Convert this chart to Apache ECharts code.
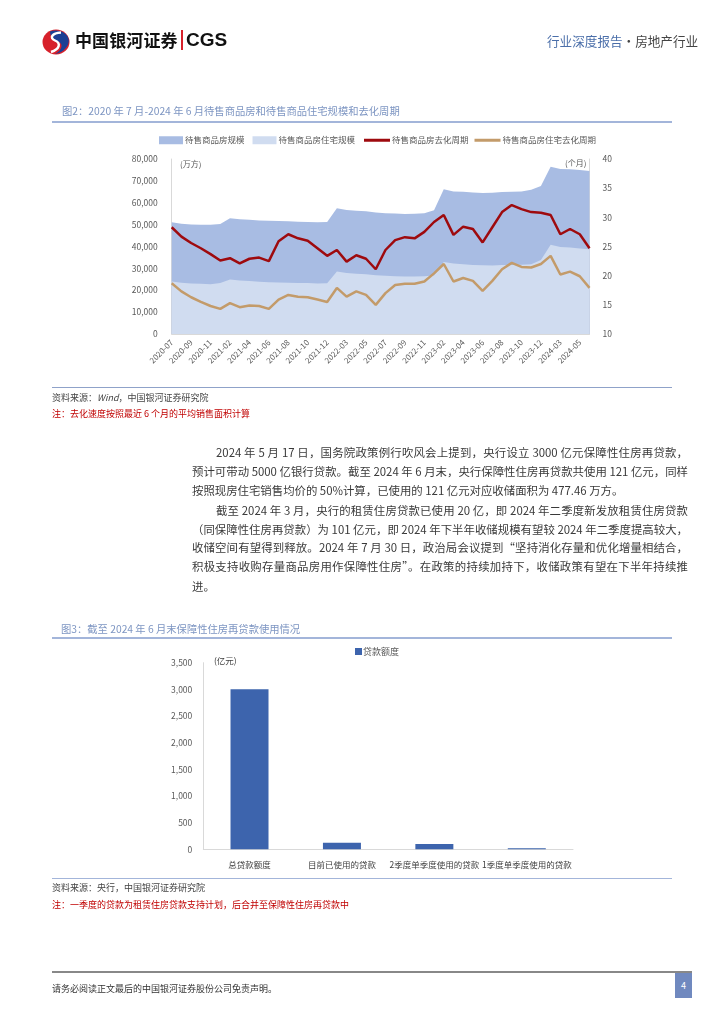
<!DOCTYPE html>
<html><head><meta charset="utf-8">
<script src="https://cdn.jsdelivr.net/npm/echarts@6/dist/echarts.min.js"></script>
<style>
body{margin:0;background:#fff;}
#page{position:relative;width:724px;height:1024px;overflow:hidden;font-family:"Noto Sans CJK SC","Noto Sans",sans-serif;background:#fff;}
#chart{position:absolute;left:0;top:0;width:724px;height:1024px;}
.t{position:absolute;white-space:nowrap;}
.hl{position:absolute;}
.p{position:absolute;font-size:11.4px;color:#3a3a3a;height:19px;line-height:19px;white-space:nowrap;}
.j{text-align:justify;text-align-last:justify;}
</style></head>
<body>
<div id="page">
<div id="chart"></div>

<!-- header -->
<svg class="hl" style="left:42px;top:29px" width="28" height="26" viewBox="0 0 28 26">
  <ellipse cx="14" cy="13" rx="13.5" ry="12.5" fill="#D7212B"/>
  <path d="M8 2.5 C 16 -1, 29 4, 26.5 14 C 25 20, 19 24, 13 25 C 20 21, 22 15, 16 12.5 C 10 10, 8 6, 8 2.5Z" fill="#1C3F94"/>
  <path d="M19 3.5 C 10 4, 7 9, 13 11.5 C 19 14, 18 20, 9 23" fill="none" stroke="#fff" stroke-width="2.4"/>
</svg>
<div class="t" style="left:75px;top:29px;font-size:17px;line-height:22px;font-weight:bold;color:#111;letter-spacing:0.1px">中国银河证券</div>
<div class="hl" style="left:181px;top:30px;width:1.5px;height:20px;background:#D7212B"></div>
<div class="t" style="left:186px;top:28px;font-size:19px;line-height:24px;font-weight:bold;color:#111;font-family:'Liberation Sans',Arial,sans-serif">CGS</div>
<div class="t" style="left:547px;top:32px;font-size:12.6px;line-height:17px;color:#4a6ea9">行业深度报告<span style="color:#444">·房地产行业</span></div>

<!-- figure 2 -->
<div class="t" style="left:62px;top:103px;font-size:10.3px;line-height:15px;color:#7d95c2">图2：2020 年 7 月-2024 年 6 月待售商品房和待售商品住宅规模和去化周期</div>
<div class="hl" style="left:52px;top:121px;width:620px;height:2px;background:#a3b5da"></div>
<div class="t" style="left:180px;top:158px;font-size:8px;line-height:12px;color:#595959">(万方)</div>
<div class="t" style="left:565px;top:157px;font-size:8px;line-height:12px;color:#595959">(个月)</div>
<div class="hl" style="left:52px;top:386.5px;width:620px;height:1.5px;background:#8fa2c9"></div>
<div class="t" style="left:52px;top:391px;font-size:9px;line-height:13px;color:#444">资料来源：<i>Wind</i>，中国银河证券研究院</div>
<div class="t" style="left:52px;top:406.5px;font-size:9px;line-height:13px;color:#c00000">注：去化速度按照最近 6 个月的平均销售面积计算</div>

<!-- body text -->
<div class="p j" style="left:216px;top:443px;width:472px">2024 年 5 月 17 日，国务院政策例行吹风会上提到，央行设立 3000 亿元保障性住房再贷款，</div>
<div class="p j" style="left:192px;top:462px;width:496px">预计可带动 5000 亿银行贷款。截至 2024 年 6 月末，央行保障性住房再贷款共使用 121 亿元，同样</div>
<div class="p" style="left:192px;top:480.5px;">按照现房住宅销售均价的 50%计算，已使用的 121 亿元对应收储面积为 477.46 万方。</div>
<div class="p j" style="left:216px;top:500.5px;width:472px">截至 2024 年 3 月，央行的租赁住房贷款已使用 20 亿，即 2024 年二季度新发放租赁住房贷款</div>
<div class="p j" style="left:192px;top:519.5px;width:496px">（同保障性住房再贷款）为 101 亿元，即 2024 年下半年收储规模有望较 2024 年二季度提高较大，</div>
<div class="p j" style="left:192px;top:538px;width:496px">收储空间有望得到释放。2024 年 7 月 30 日，政治局会议提到“坚持消化存量和优化增量相结合，</div>
<div class="p j" style="left:192px;top:557px;width:496px">积极支持收购存量商品房用作保障性住房”。在政策的持续加持下，收储政策有望在下半年持续推</div>
<div class="p" style="left:192px;top:576.5px;">进。</div>

<!-- figure 3 -->
<div class="t" style="left:61px;top:620.5px;font-size:10.3px;line-height:15px;color:#7d95c2">图3：截至 2024 年 6 月末保障性住房再贷款使用情况</div>
<div class="hl" style="left:52px;top:637px;width:620px;height:2px;background:#a3b5da"></div>
<div class="t" style="left:214px;top:654px;font-size:8.5px;line-height:12px;color:#404040">(亿元)</div>
<div class="hl" style="left:52px;top:877.5px;width:620px;height:1.5px;background:#a3b5da"></div>
<div class="t" style="left:52px;top:880.5px;font-size:9px;line-height:13px;color:#444">资料来源：央行，中国银河证券研究院</div>
<div class="t" style="left:52px;top:897.5px;font-size:9px;line-height:13px;color:#c00000">注：一季度的贷款为租赁住房贷款支持计划，后合并至保障性住房再贷款中</div>

<!-- footer -->
<div class="hl" style="left:52px;top:971px;width:640px;height:1.5px;background:#888"></div>
<div class="t" style="left:52px;top:981.5px;font-size:9px;line-height:13px;color:#333">请务必阅读正文最后的中国银河证券股份公司免责声明。</div>
<div class="hl" style="left:675px;top:972.5px;width:17px;height:25px;background:#7089bf;color:#fff;font-size:9px;line-height:25px;text-align:center">4</div>
</div>

<script>
const months = ['2020-07','2020-08','2020-09','2020-10','2020-11','2020-12',
  '2021-02','2021-03','2021-04','2021-05','2021-06','2021-07','2021-08','2021-09','2021-10','2021-11','2021-12',
  '2022-02','2022-03','2022-04','2022-05','2022-06','2022-07','2022-08','2022-09','2022-10','2022-11','2022-12',
  '2023-02','2023-03','2023-04','2023-05','2023-06','2023-07','2023-08','2023-09','2023-10','2023-11','2023-12',
  '2024-02','2024-03','2024-04','2024-05','2024-06'];
const totalStock = [51100,50400,50100,49900,49900,50300,
  52900,52500,52200,51900,51800,51700,51500,51300,51200,51100,51200,
  57500,56700,56400,56100,55500,55200,55100,54900,55000,55200,56600,
  66200,65200,65000,64700,64500,64600,64900,65000,65100,66000,67700,
  76500,75400,75300,75000,74500];
const resiStock = [24000,23400,23100,23000,22800,23300,
  24900,24500,24200,23900,23700,23600,23400,23300,23300,23100,23200,
  28600,27900,27600,27300,26900,26600,26400,26300,26300,26400,26700,
  32900,32200,31900,31600,31400,31300,31500,31600,31700,31900,33800,
  40800,39800,39500,39100,38800];
const totalCycle = [28.3,26.7,25.6,24.7,23.7,22.6,
  23.0,22.1,22.9,23.1,22.5,25.9,27.1,26.4,26.0,24.7,23.4,
  24.4,22.4,23.5,22.9,21.1,24.4,26.1,26.6,26.4,27.5,29.2,
  30.4,27.0,28.4,28.0,25.7,28.3,30.9,32.1,31.4,30.9,30.8,
  30.4,27.1,28.0,27.1,24.7];
const resiCycle = [18.7,17.3,16.3,15.5,14.8,14.3,
  15.3,14.6,14.9,14.8,14.3,15.9,16.7,16.4,16.3,15.9,15.5,
  17.9,16.4,17.3,16.7,15.0,17.0,18.4,18.6,18.6,19.0,20.4,
  22.0,19.0,19.6,19.1,17.4,19.1,21.1,22.2,21.5,21.4,22.0,
  23.4,20.2,20.7,19.9,17.9];

const loanCats = ['总贷款额度','目前已使用的贷款','2季度单季度使用的贷款','1季度单季度使用的贷款'];
const loanVals = [3000,121,101,20];

const FONT = 'Noto Sans CJK SC';
const AX = '#d9d9d9';
const LBL = '#595959';
const chart = echarts.init(document.getElementById('chart'), null, {renderer:'canvas'});
const fmt = v => v.toLocaleString('en-US');

chart.setOption({
  animation:false,
  textStyle:{fontFamily:FONT},
  legend:[
    {data:['待售商品房规模','待售商品房住宅规模'], left:159, top:136, icon:'rect', itemWidth:24, itemHeight:8, itemGap:8, padding:0,
     textStyle:{fontSize:8.5, color:LBL, fontFamily:FONT, padding:[0,0,0,-3]}},
    {data:['待售商品房去化周期','待售商品房住宅去化周期'], left:364, top:136, icon:'rect', itemWidth:26, itemHeight:3, itemGap:6, padding:0,
     textStyle:{fontSize:8.5, color:LBL, fontFamily:FONT, padding:[0,0,0,-3]}},
    {data:['贷款额度'], left:355, top:647, icon:'rect', itemWidth:7, itemHeight:7, padding:0,
     textStyle:{fontSize:9, color:LBL, fontFamily:FONT, padding:[0,0,0,-4]}}
  ],
  grid:[
    {left:171.7, top:159, width:417.8, height:175},
    {left:203.3, top:662.7, width:369.7, height:186.6}
  ],
  xAxis:[
    {type:'category', gridIndex:0, data:months, boundaryGap:false,
     axisLine:{show:true, lineStyle:{color:AX, width:1}}, axisTick:{show:false},
     axisLabel:{interval:1, rotate:45, fontSize:8, color:LBL, margin:7, fontFamily:FONT}},
    {type:'category', gridIndex:1, data:loanCats,
     axisLine:{show:true, lineStyle:{color:AX, width:1}}, axisTick:{show:false},
     axisLabel:{interval:0, fontSize:8.5, color:'#404040', margin:11, fontFamily:FONT}}
  ],
  yAxis:[
    {type:'value', gridIndex:0, min:0, max:80000, interval:10000, position:'left',
     axisLine:{show:true, lineStyle:{color:AX}}, axisTick:{show:false}, splitLine:{show:false},
     axisLabel:{formatter:fmt, fontSize:8.5, color:LBL, margin:14, fontFamily:FONT}},
    {type:'value', gridIndex:0, min:10, max:40, interval:5, position:'right',
     axisLine:{show:true, lineStyle:{color:AX}}, axisTick:{show:false}, splitLine:{show:false},
     axisLabel:{fontSize:8.5, color:LBL, margin:13, fontFamily:FONT}},
    {type:'value', gridIndex:1, min:0, max:3500, interval:500,
     axisLine:{show:true, lineStyle:{color:AX}}, axisTick:{show:false}, splitLine:{show:false},
     axisLabel:{formatter:fmt, fontSize:8.5, color:LBL, margin:11, fontFamily:FONT}}
  ],
  series:[
    {name:'待售商品房规模', type:'line', xAxisIndex:0, yAxisIndex:0, data:totalStock, symbol:'none',
     lineStyle:{width:0}, itemStyle:{color:'#A8BCE3'}, areaStyle:{color:'#A8BCE3', opacity:1}, z:1},
    {name:'待售商品房住宅规模', type:'line', xAxisIndex:0, yAxisIndex:0, data:resiStock, symbol:'none',
     lineStyle:{width:0}, itemStyle:{color:'#D0DCF0'}, areaStyle:{color:'#D0DCF0', opacity:1}, z:2},
    {name:'待售商品房去化周期', type:'line', xAxisIndex:0, yAxisIndex:1, data:totalCycle, symbol:'none',
     lineStyle:{width:2.5, color:'#9E0A0E'}, itemStyle:{color:'#9E0A0E'}, z:4},
    {name:'待售商品房住宅去化周期', type:'line', xAxisIndex:0, yAxisIndex:1, data:resiCycle, symbol:'none',
     lineStyle:{width:2.5, color:'#C39B6A'}, itemStyle:{color:'#C39B6A'}, z:3},
    {name:'贷款额度', type:'bar', xAxisIndex:1, yAxisIndex:2, data:loanVals, barWidth:38,
     itemStyle:{color:'#3D64AD'}}
  ]
});
</script>
</body></html>
